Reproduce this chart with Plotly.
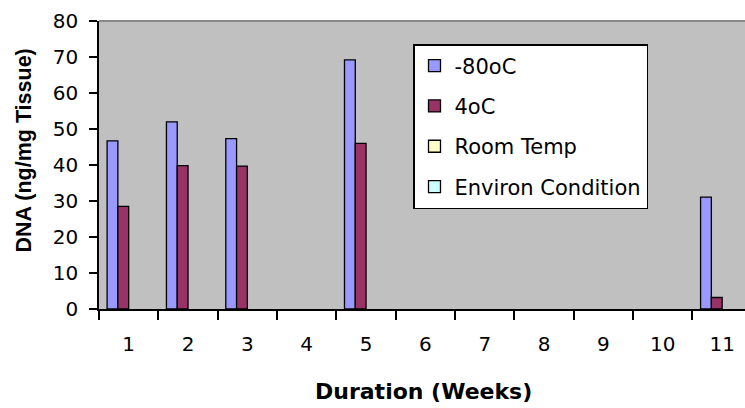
import plotly.graph_objects as go

weeks = ["1", "2", "3", "4", "5", "6", "7", "8", "9", "10", "11"]
minus80 = [46.7, 52.0, 47.3, None, 69.2, None, None, None, None, None, 31.1]
four_c = [28.5, 39.8, 39.7, None, 46.0, None, None, None, None, None, 3.2]
room_temp = [None] * 11
environ = [None] * 11

series_names = ["-80oC", "4oC", "Room Temp", "Environ Condition"]
series_values = [minus80, four_c, room_temp, environ]
series_colors = ["#9999FF", "#993366", "#FFFFCC", "#CCFFFF"]

W, H = 745, 408
L, T, B = 99, 21, 99
PW, PH = W - L, H - T - B

def px_x(px):
    return (px - L) / PW

def px_y(py):
    return (H - B - py) / PH

bw = 1 / 5.5
fig = go.Figure()
for i, (name, vals, col) in enumerate(zip(series_names, series_values, series_colors)):
    fig.add_trace(go.Bar(
        x=weeks, y=vals, name=name,
        marker=dict(color=col, line=dict(color="black", width=1.3)),
        width=bw, offset=-2 * bw + i * bw,
        legendgroup=name,
    ))

tick_font = dict(family="DejaVu Sans", size=20, color="black")

fig.update_layout(
    width=W, height=H,
    margin=dict(l=L, r=0, t=T, b=B),
    paper_bgcolor="white",
    plot_bgcolor="#C0C0C0",
    barmode="overlay",
    showlegend=True,
    legend=dict(
        x=px_x(413), y=px_y(44), xanchor="left", yanchor="top",
        bgcolor="white", bordercolor="black", borderwidth=1.5,
        font=dict(family="DejaVu Sans", size=21, color="black"),
        traceorder="grouped", tracegroupgap=10,
        itemclick=False,
    ),
    xaxis=dict(
        type="category", range=[-0.5, 10.385],
        showgrid=False, zeroline=False,
        showline=True, linecolor="black", linewidth=1.5,
        ticks="outside", tickson="boundaries", ticklen=9, tickwidth=1.5, tickcolor="black",
        tickfont=tick_font, ticklabelstandoff=16,
    ),
    yaxis=dict(
        range=[0, 80], dtick=10,
        showgrid=False, zeroline=False,
        showline=True, linecolor="black", linewidth=1.5,
        ticks="outside", ticklen=8, tickwidth=1.5, tickcolor="black",
        tickfont=tick_font, ticklabelstandoff=7,
    ),
    shapes=[dict(type="line", xref="paper", yref="paper", x0=0, x1=1, y0=1, y1=1,
                 line=dict(color="#8A8A8A", width=2))],
    annotations=[
        dict(text="DNA (ng/mg Tissue)", xref="paper", yref="paper",
             x=px_x(23), y=px_y(150.5), xanchor="center", yanchor="middle",
             textangle=-90, showarrow=False,
             font=dict(family="Liberation Sans", size=21.5, color="black", weight="bold")),
        dict(text="Duration (Weeks)", xref="paper", yref="paper",
             x=px_x(423.5), y=px_y(391), xanchor="center", yanchor="middle",
             showarrow=False,
             font=dict(family="DejaVu Sans", size=22, color="black", weight="bold")),
    ],
)

fig.write_html("out.html")
